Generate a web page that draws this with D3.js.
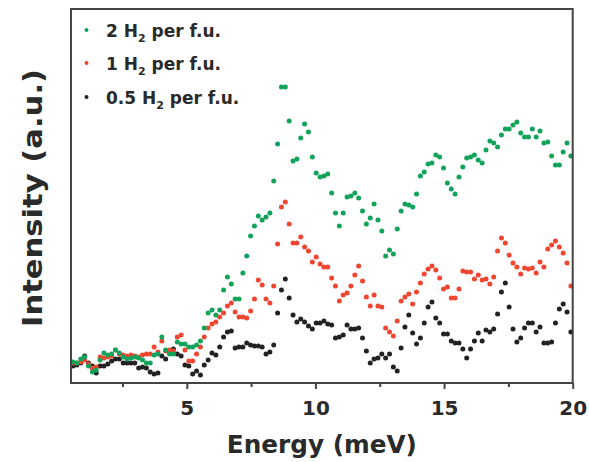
<!DOCTYPE html>
<html><head><meta charset="utf-8">
<script src="https://cdnjs.cloudflare.com/ajax/libs/d3/7.8.5/d3.min.js"></script>
<style>
html,body{margin:0;padding:0;background:#fff;}
svg{display:block;font-family:"DejaVu Sans",Arial,sans-serif;}
</style></head>
<body><svg id="chart" width="589" height="462"></svg>
<script>
// Energy grid (meV), shared by all series
const energy = [0.58,0.73,0.88,1.03,1.18,1.33,1.48,1.63,1.78,1.93,
2.08,2.23,2.38,2.53,2.68,2.83,2.98,3.13,3.28,3.43,
3.58,3.73,3.88,4.03,4.18,4.33,4.48,4.63,4.78,4.93,
5.08,5.23,5.38,5.53,5.68,5.83,5.98,6.13,6.28,6.43,
6.58,6.73,6.88,7.03,7.18,7.33,7.48,7.63,7.78,7.93,
8.08,8.23,8.38,8.53,8.68,8.83,8.98,9.13,9.28,9.43,
9.58,9.73,9.88,10.03,10.18,10.33,10.48,10.63,10.78,10.93,
11.08,11.23,11.38,11.53,11.68,11.83,11.98,12.13,12.28,12.43,
12.58,12.73,12.88,13.03,13.18,13.33,13.48,13.63,13.78,13.93,
14.08,14.23,14.38,14.53,14.68,14.83,14.98,15.13,15.28,15.43,
15.58,15.73,15.88,16.03,16.18,16.33,16.48,16.63,16.78,16.93,
17.08,17.23,17.38,17.53,17.68,17.83,17.98,18.13,18.28,18.43,
18.58,18.73,18.88,19.03,19.18,19.33,19.48,19.63,19.78,19.93];

// Intensities (a.u.)
const h2_2 = [21,20,24,26,17,11,13,23,30,28,
29,33,30,26,24,25,26,25,23,20,
20,28,29,46,33,29,29,41,39,39,
36,36,38,42,55,70,73,68,73,93,
106,99,84,84,110,127,147,157,167,163,
166,170,202,239,296,296,262,222,224,245,
259,251,226,210,206,207,209,190,170,157,
170,186,187,190,185,172,159,165,179,163,
152,127,133,129,154,172,179,178,176,189,
207,211,219,220,228,226,215,200,194,189,
206,216,225,226,228,223,220,233,242,240,
236,248,254,254,258,261,250,246,246,254,
246,252,240,241,227,218,218,231,240,227];

const h2_1 = [20,20,21,23,19,15,16,26,25,26,
27,33,29,28,27,28,27,26,28,29,
29,36,31,42,32,33,32,46,48,33,
22,22,29,36,46,55,59,61,66,70,
77,80,71,66,66,65,72,84,103,98,
84,80,97,139,176,181,159,140,140,146,
136,132,121,126,119,116,116,105,97,82,
88,90,97,108,117,102,86,77,88,77,
76,55,51,47,62,82,86,89,79,91,
100,109,114,117,113,105,94,96,85,85,
94,112,111,111,104,108,103,104,99,106,
132,145,140,128,120,116,109,115,114,115,
110,121,116,134,138,142,136,130,120,97];

const h2_05 = [17,18,20,27,20,17,10,17,17,19,
22,24,24,20,20,20,20,15,16,15,
11,9,10,27,24,31,34,29,27,18,
17,9,12,8,18,23,30,28,36,46,
51,52,35,36,36,40,38,37,37,36,
29,31,38,70,93,104,85,68,61,64,
61,57,54,60,60,62,59,58,45,46,
48,58,54,54,55,45,32,20,24,25,
29,25,29,16,12,35,56,68,50,39,
45,60,76,81,65,60,49,49,42,40,
40,34,25,34,42,50,42,53,51,54,
69,91,100,76,54,41,45,55,60,60,
51,56,40,40,41,60,74,79,71,51];

const seriesNames = ["2", "1", "0.5"];
const seriesColors = ["#12a35b", "#ee4630", "#222222"];
const seriesValues = [h2_2, h2_1, h2_05];
const majorTicks = [5, 10, 15, 20];
const minorTicks = [2.5, 7.5, 12.5, 17.5];

const FONT = "'DejaVu Sans', Arial, sans-serif";
const TXT = "#2a2a2a";
const svg = d3.select("#chart");
const L = 71, R = 572.7, T = 9, B = 383;
const x = d3.scaleLinear().domain([0.5, 20]).range([L, R]);
const y = d3.scaleLinear().domain([0, 374]).range([B, T]);

// points: black first, then red, then green on top
[2, 1, 0].forEach(si => {
  svg.append("g").selectAll("circle")
    .data(energy.map((e, i) => [e, seriesValues[si][i]]))
    .join("circle")
    .attr("cx", d => x(d[0]))
    .attr("cy", d => y(d[1]))
    .attr("r", 2.5)
    .attr("fill", seriesColors[si]);
});

// frame
svg.append("rect").attr("x", L).attr("y", T).attr("width", R - L).attr("height", B - T)
  .attr("fill", "none").attr("stroke", "#444").attr("stroke-width", 2);

// axes
const ax = svg.append("g").attr("transform", `translate(0,${B})`)
  .call(d3.axisBottom(x).tickValues(majorTicks).tickSize(6).tickPadding(12).tickFormat(d3.format("d")));
ax.select(".domain").remove();
ax.selectAll("line").attr("stroke", "#444").attr("stroke-width", 2);
ax.selectAll("text").attr("font-size", 20).attr("font-weight", "bold").attr("fill", TXT)
  .attr("font-family", FONT);

const axm = svg.append("g").attr("transform", `translate(0,${B})`)
  .call(d3.axisBottom(x).tickValues(minorTicks).tickSize(4).tickFormat(""));
axm.select(".domain").remove();
axm.selectAll("line").attr("stroke", "#444").attr("stroke-width", 2);

// axis titles
svg.append("text").attr("x", (L + R) / 2).attr("y", 453).attr("text-anchor", "middle")
  .attr("font-size", 24).attr("font-weight", "bold").attr("fill", TXT)
  .attr("textLength", 190).attr("lengthAdjust", "spacingAndGlyphs").text("Energy (meV)");
svg.append("text").attr("transform", `translate(42,${(T + B) / 2 + 2}) rotate(-90)`)
  .attr("text-anchor", "middle").attr("font-size", 27).attr("font-weight", "bold")
  .attr("fill", TXT).attr("textLength", 258).attr("lengthAdjust", "spacingAndGlyphs")
  .text("Intensity (a.u.)");

// legend
const legY = [30, 63, 97];
seriesNames.forEach((n, i) => {
  svg.append("circle").attr("cx", 86.5).attr("cy", legY[i]).attr("r", 2).attr("fill", seriesColors[i]);
  const t = svg.append("text").attr("x", 106).attr("y", legY[i] + 6.5)
    .attr("font-size", 17).attr("font-weight", "bold").attr("fill", TXT);
  t.append("tspan").text(n + " H");
  t.append("tspan").attr("font-size", 11).attr("dy", 5).text("2");
  t.append("tspan").attr("dy", -5).text(" per f.u.");
});
</script></body></html>
